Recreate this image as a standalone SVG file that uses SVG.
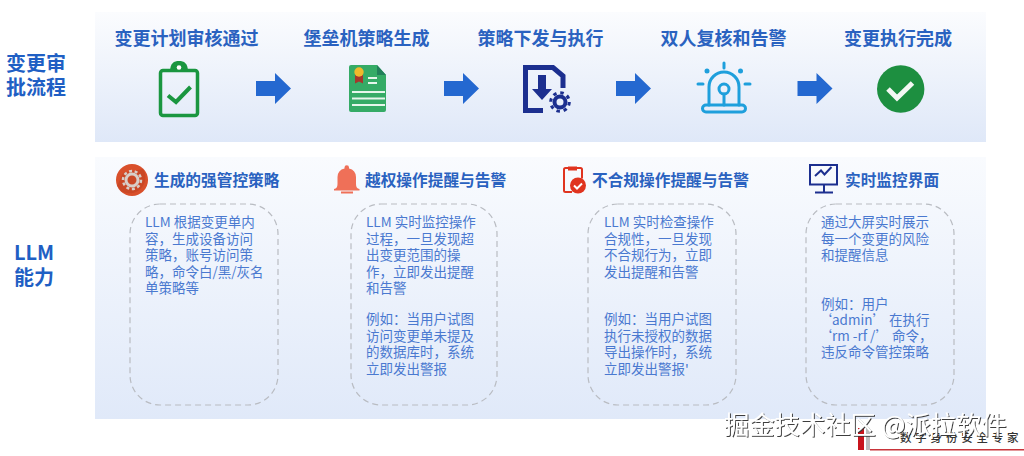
<svg xmlns="http://www.w3.org/2000/svg" width="1024" height="456" viewBox="0 0 1024 456">
<defs>
<linearGradient id="p1" x1="0" y1="0" x2="0" y2="1"><stop offset="0" stop-color="#fbfcfe"/><stop offset="1" stop-color="#dfe8f8"/></linearGradient>
<linearGradient id="p2" x1="0" y1="0" x2="0" y2="1"><stop offset="0" stop-color="#f9fbfe"/><stop offset="1" stop-color="#e0e9f9"/></linearGradient>
<filter id="wm" x="-5%" y="-20%" width="110%" height="140%"><feDropShadow dx="1" dy="1" stdDeviation="0.4" flood-color="#333" flood-opacity="0.95"/></filter>
<path id="arr" d="M0-7.500H19V-15.500L35 0 19 15.500V7.500H0Z" fill="#2468d0"/>
</defs>
<style>
text{font-family:"Noto Sans CJK SC","Liberation Sans",sans-serif}
.h{font-size:18px;font-weight:700;fill:#2a62c0;text-anchor:middle}
.s{font-size:15.7px;font-weight:700;fill:#2a62c0}
.l{font-size:20px;font-weight:700;fill:#1f5fc4;text-anchor:middle}
.b{font-size:13.5px;fill:#4a79d0}
.d{fill:none;stroke:#b9bcc2;stroke-width:1.2;stroke-dasharray:6 4}
</style>
<rect width="1024" height="456" fill="#fff"/>
<rect x="95" y="12" width="891" height="130" fill="url(#p1)"/>
<rect x="95" y="157" width="891" height="262" fill="url(#p2)"/>
<g id="lane-label-1"><text class="l" x="36" y="71">变更审</text><text class="l" x="36" y="95">批流程</text></g>
<g id="lane-label-2"><text class="l" x="34" y="260">LLM</text><text class="l" x="34" y="285">能力</text></g>
<g id="step1"><text class="h" x="186.500" y="45">变更计划审核通过</text>
<rect x="160.500" y="70.500" width="37" height="45" rx="2.500" fill="none" stroke="#1a9640" stroke-width="3.500"/>
<path d="M170 72c0-9 4-11 9-11s9 2 9 11Z" fill="#1a9640"/><circle cx="179" cy="67.500" r="2.300" fill="#fff"/>
<path d="M168 95.500l8 6.500 14.500-15" fill="none" stroke="#1a9640" stroke-width="4"/></g>
<g id="step2"><text class="h" x="366.500" y="45">堡垒机策略生成</text>
<path d="M349 67a2 2 0 0 1 2-2h26l9 10v35a2 2 0 0 1-2 2h-33a2 2 0 0 1-2-2Z" fill="#35ab66"/>
<path d="M377 65l9 10h-9Z" fill="#22805a"/>
<path d="M352 92h33M352 98.500h33M352 105h33M368 78h9M368 83h9" stroke="#e6f6eb" stroke-width="1.800"/>
<path d="M355 75v8.500l4-2 4 2V75Z" fill="#a5372c"/><circle cx="359" cy="72" r="4.700" fill="#f0b92b"/></g>
<g id="step3"><text class="h" x="540.500" y="45">策略下发与执行</text>
<path d="M543 110.500H525.500V67.500H553L563 76V88" fill="none" stroke="#1c2f8f" stroke-width="5"/>
<path d="M538 75v14h-6l10 11 10-11h-6V75Z" fill="#1c2f8f"/>
<circle cx="560" cy="102" r="5.500" fill="none" stroke="#1c2f8f" stroke-width="4"/>
<circle cx="560" cy="102" r="9.300" fill="none" stroke="#1c2f8f" stroke-width="3" stroke-dasharray="3.500 3.800"/></g>
<g id="step4"><text class="h" x="723.500" y="45">双人复核和告警</text>
<g fill="none" stroke="#1e9fdc" stroke-width="3" stroke-linecap="round">
<rect x="702.500" y="105" width="43" height="7" rx="3.500"/><path d="M709 105V87a15 15 0 0 1 30 0v18"/><circle cx="724" cy="89" r="5"/><path d="M724 94v11M724 63v5M698 84h5M745 84h5"/></g>
<g fill="#1e9fdc"><circle cx="707" cy="71" r="2.500"/><circle cx="740.500" cy="71" r="2.500"/></g></g>
<g id="step5"><text class="h" x="898" y="45">变更执行完成</text>
<circle cx="900.700" cy="89" r="23.700" fill="#1d8f40"/><path d="M888 89l9 9 15.500-15" fill="none" stroke="#f3f8f3" stroke-width="5"/></g>
<g id="connectors"><use href="#arr" x="256" y="88.500"/><use href="#arr" x="444" y="88.500"/><use href="#arr" x="616" y="88.500"/><use href="#arr" x="797.500" y="88.500"/></g>
<g id="card1"><circle cx="132" cy="180" r="16" fill="#d9502b"/><path d="M143 169a16 16 0 0 1-22 22l-4-5 6-13Z" fill="#b93f20" opacity=".45"/>
<circle cx="132" cy="180" r="6" fill="none" stroke="#d8cfc8" stroke-width="3"/><circle cx="132" cy="180" r="9" fill="none" stroke="#d8cfc8" stroke-width="2.500" stroke-dasharray="3 2.600"/>
<text class="s" x="154" y="186">生成的强管控策略</text>
<rect class="d" x="130" y="204" width="148" height="201" rx="30"/>
<text class="b"><tspan x="145" y="227">LLM 根据变更单内</tspan><tspan x="145" y="243.500">容，生成设备访问</tspan><tspan x="145" y="260">策略，账号访问策</tspan><tspan x="145" y="276.500">略，命令白/黑/灰名</tspan><tspan x="145" y="293">单策略等</tspan></text></g>
<g id="card2"><path d="M334 189c2.500-.5 3.500-2 3.500-5v-7a9 9 0 0 1 7-8.500v-1a2 2 0 0 1 4.500 0v1a9 9 0 0 1 7 8.500v7c0 3 1 4.500 3.500 5v1.500h-25.500ZM341 191.500h12v2h-12Z" fill="#ef7058"/>
<text class="s" x="365" y="186">越权操作提醒与告警</text>
<rect class="d" x="351" y="204" width="146" height="201" rx="30"/>
<text class="b"><tspan x="366" y="227">LLM 实时监控操作</tspan><tspan x="366" y="243.500">过程，一旦发现超</tspan><tspan x="366" y="260">出变更范围的操</tspan><tspan x="366" y="276.500">作，立即发出提醒</tspan><tspan x="366" y="293">和告警</tspan><tspan x="366" y="324">例如：当用户试图</tspan><tspan x="366" y="340.500">访问变更单未提及</tspan><tspan x="366" y="357">的数据库时，系统</tspan><tspan x="366" y="373.500">立即发出警报</tspan></text></g>
<g id="card3"><path d="M572 192h-6.500a1.500 1.500 0 0 1-1.500-1.500v-21a1.500 1.500 0 0 1 1.500-1.500h15a1.500 1.500 0 0 1 1.500 1.500v9" fill="none" stroke="#e0341f" stroke-width="2"/><rect x="568" y="166.500" width="9" height="4" fill="#e0341f"/>
<circle cx="578" cy="185.500" r="8" fill="#e0341f"/><path d="M574 185.500l3 3 5-5" fill="none" stroke="#fff" stroke-width="2"/>
<text class="s" x="592" y="186">不合规操作提醒与告警</text>
<rect class="d" x="588" y="204" width="148" height="201" rx="30"/>
<text class="b"><tspan x="604" y="227">LLM 实时检查操作</tspan><tspan x="604" y="243.500">合规性，一旦发现</tspan><tspan x="604" y="260">不合规行为，立即</tspan><tspan x="604" y="276.500">发出提醒和告警</tspan><tspan x="604" y="324">例如：当用户试图</tspan><tspan x="604" y="340.500">执行未授权的数据</tspan><tspan x="604" y="357">导出操作时，系统</tspan><tspan x="604" y="373.500">立即发出警报'</tspan></text></g>
<g id="card4"><rect x="810" y="165" width="27" height="19.500" fill="none" stroke="#1c2f8f" stroke-width="2"/><path d="M815 176l6-5.500 3.500 4 7-7.500M824 185v7M815 192.500h18" fill="none" stroke="#1c2f8f" stroke-width="2"/>
<text class="s" x="845" y="186">实时监控界面</text>
<rect class="d" x="806" y="204" width="148" height="201" rx="30"/>
<text class="b"><tspan x="821" y="227">通过大屏实时展示</tspan><tspan x="821" y="243.500">每一个变更的风险</tspan><tspan x="821" y="260">和提醒信息</tspan><tspan x="821" y="309">例如：用户</tspan><tspan x="818.500" y="325">‘admin’  在执行</tspan><tspan x="818.500" y="341">‘rm -rf /’  命令，</tspan><tspan x="821" y="357">违反命令管控策略</tspan></text></g>
<rect x="858" y="428" width="6" height="22" fill="#c8141c"/><rect x="866" y="428" width="4" height="22" fill="#bbb"/><rect x="870" y="449" width="154" height="1.500" fill="#c8343a"/>
<text x="900" y="442" font-size="11.500" letter-spacing="3.800" fill="#333" style="font-weight:500">数字身份安全专家</text>
<text x="724" y="434" font-size="25.300" fill="#fff" filter="url(#wm)">掘金技术社区 @派拉软件</text>
</svg>
